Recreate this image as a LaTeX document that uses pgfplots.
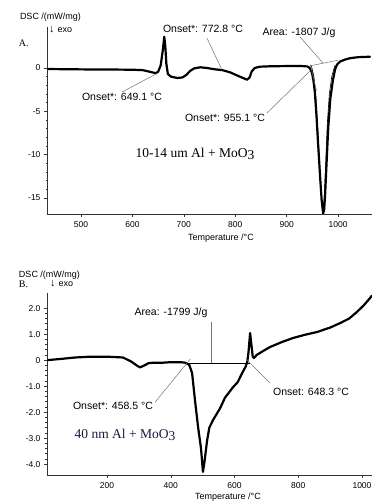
\documentclass[border=0pt]{standalone}
\usepackage{pgfplots}
\pgfplotsset{compat=1.18}
\usepackage{fontspec}
\setmainfont{Liberation Serif}
\setsansfont{Liberation Sans}
\newfontfamily\arial{Liberation Sans}

\definecolor{leader}{gray}{0.45}
\definecolor{navytext}{rgb}{0.10,0.10,0.25}

\pgfplotsset{
  dscaxis/.style={
    scale only axis,
    anchor=south west,
    width=325pt,
    axis lines=left,
    axis line style={-, black!80, line width=0.5pt},
    tick align=outside,
    major tick length=3pt,
    minor tick length=1.5pt,
    tick style={black!80, line width=0.4pt},
    tick label style={font=\arial\fontsize{8.5}{9}\selectfont},
    xticklabel style={yshift=-1pt},
  },
  dsccurve/.style={black, line width=2.2pt, line join=round, line cap=round},
  thinline/.style={leader, line width=0.5pt},
}

\begin{document}
\begin{tikzpicture}
\useasboundingbox (0,0) rectangle (372pt,504pt);

% ---------- A: 10-14 um Al + MoO3 ----------
\begin{axis}[dscaxis,
  at={(47pt,290pt)}, height=187pt,
  xmin=433.9, xmax=1066, ymin=-16.85, ymax=4.73,
  xtick={500,600,700,800,900,1000},
  xticklabels={500,600,700,800,900,1000},
  ytick={-15,-10,-5,0}, yticklabels={-15,-10,-5,0},
  minor x tick num=4, minor y tick num=4,
]
\addplot[dsccurve] coordinates {
(436,-0.12) (480,-0.15) (520,-0.17) (560,-0.18) (600,-0.2) (620,-0.25)
(635,-0.45) (645,-0.6) (650,-0.45) (655,0.3) (659,2.0) (662,3.6)
(664,2.5) (666,0.5) (669,-0.7) (675,-1.0) (687,-1.15) (697,-1.1)
(705,-0.8) (712,-0.35) (720,-0.05) (732,0.08) (745,0.0) (760,-0.15)
(775,-0.25) (790,-0.5) (805,-0.9) (815,-1.15) (823,-1.35) (828,-1.1)
(832,-0.4) (838,0.0) (848,0.15) (870,0.2) (900,0.22) (930,0.22)
(940,0.18) (945,0.0) (949,-0.5) (952,-1.4) (955,-2.9) (958,-5.5)
(961,-8.6) (965,-12.5) (968,-15.2) (971,-16.8) (973,-16.3) (975,-14.4)
(978,-10.5) (981,-6.8) (985,-3.5) (990,-1.4) (994,-0.2) (998,0.4)
(1004,0.75) (1015,1.0) (1025,1.15) (1040,1.25) (1062,1.3)
};
% inner trace of the reaction peak
\addplot[black, line width=0.6pt] coordinates {
(948,0.3) (953,-1.0) (957,-3.5) (961,-7.5) (965,-12.0) (969,-15.8)
(971,-16.4) (973,-15.0) (976,-11.0) (979,-6.5) (983,-3.0) (988,-0.9) (994,0.3)
};
% integration baseline and onset tangent
\addplot[thinline] coordinates {(946,0.25) (1000,0.9)};
\addplot[thinline] coordinates {(946,0.4) (958,-2.6)};
% leader lines
\addplot[thinline] coordinates {(580,-2.77) (649,-0.6)};
\addplot[thinline] coordinates {(745,3.46) (774,-0.2)};
\addplot[thinline] coordinates {(926,3.58) (971,0.55)};
\addplot[thinline] coordinates {(862,-5.19) (946,-0.3)};
\end{axis}

% ---------- B: 40 nm Al + MoO3 ----------
\begin{axis}[dscaxis,
  at={(47pt,29pt)}, height=182pt,
  xmin=11.8, xmax=1031.4, ymin=-4.42, ymax=2.58,
  xtick={200,400,600,800,1000},
  xticklabels={200,400,600,800,1000},
  ytick={-4,-3,-2,-1,0,1,2},
  yticklabels={-4.0,-3.0,-2.0,-1.0,0,1.0,2.0},
  minor x tick num=1, minor y tick num=4,
]
\addplot[dsccurve] coordinates {
(15,0.0) (60,0.05) (100,0.1) (147,0.13) (200,0.13) (250,0.1)
(275,-0.05) (295,-0.22) (304,-0.28) (315,-0.22) (330,-0.12) (345,-0.1)
(376,-0.1) (400,-0.08) (430,-0.08) (445,-0.1) (458,-0.18) (467,-0.5)
(476,-1.54) (486,-2.6) (495,-3.4) (501,-4.3) (506,-3.9) (514,-3.1)
(521,-2.6) (533,-2.3) (555,-1.85) (570,-1.45) (595,-1.05) (610,-0.85)
(624,-0.5) (635,-0.25) (640,-0.08) (644,0.3) (649,1.04) (653,0.6)
(657,0.15) (661,0.08) (670,0.2) (690,0.35) (711,0.5) (750,0.7)
(784,0.85) (820,0.97) (859,1.08) (900,1.25) (931,1.42) (960,1.6)
(984,1.85) (1005,2.1) (1025,2.38) (1031,2.48)
};
% integration baseline
\addplot[black, line width=0.9pt] coordinates {(446,-0.12) (648,-0.12)};
% leader lines
\addplot[thinline] coordinates {(526,1.46) (526,-0.12)};
\addplot[thinline] coordinates {(351,-1.62) (462,0.05)};
\addplot[thinline] coordinates {(636,0.05) (711,-0.88)};
\end{axis}

% ---------- text ----------
\begin{scope}[yshift=504pt, x=1pt, y=-1pt]
\tikzset{every node/.style={inner sep=0pt, outer sep=0pt}}
\def\lab{\arial\fontsize{9}{10}\selectfont}
\def\ann{\arial\fontsize{10.5}{12}\selectfont}
% panel A
\node[anchor=west] at (20,17) {\lab DSC /(mW/mg)};
\node[anchor=west] at (49,30) {\lab {\fontsize{11}{11}\selectfont ↓}\hspace{3pt}exo};
\node[anchor=west] at (19,43) {\fontsize{10}{12}\selectfont A.};
\node at (203,29) {\ann Onset*: 772.8 °C};
\node at (299,33) {\ann Area: -1807 J/g};
\node at (122,97) {\ann Onset*: 649.1 °C};
\node at (225,118) {\ann Onset*: 955.1 °C};
\node at (195,154) {\fontsize{13.5}{15}\selectfont 10-14 um Al + MoO\raisebox{-0.25ex}{3}};
\node at (221,238) {\lab Temperature /°C};
% panel B
\node[anchor=west] at (19,275) {\lab DSC /(mW/mg)};
\node[anchor=west] at (50,284) {\lab {\fontsize{11}{11}\selectfont ↓}\hspace{3pt}exo};
\node[anchor=west] at (19,284) {\fontsize{10}{12}\selectfont B.};
\node at (171,313) {\ann Area: -1799 J/g};
\node at (311,392) {\ann Onset: 648.3 °C};
\node at (113,406) {\ann Onset*: 458.5 °C};
\node[text=navytext] at (125,435) {\fontsize{13.5}{15}\selectfont 40 nm Al + MoO\raisebox{-0.25ex}{3}};
\node at (228,497) {\lab Temperature /°C};
\end{scope}
\end{tikzpicture}
\end{document}
